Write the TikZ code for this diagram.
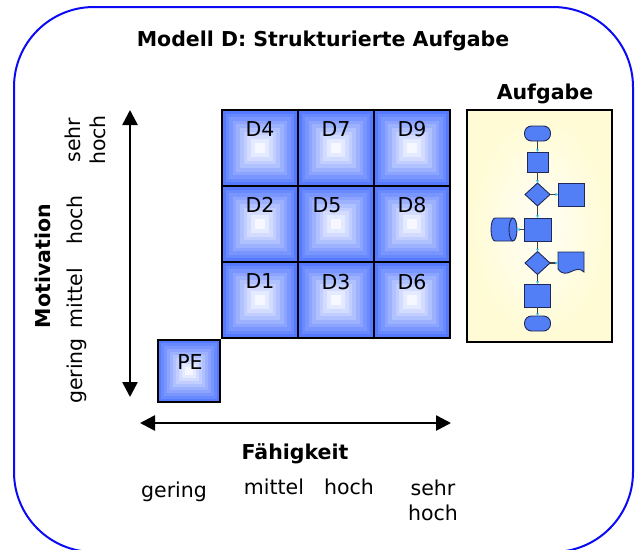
\documentclass[tikz,border=0pt]{standalone}
\usepackage{fontspec}
\setmainfont{DejaVu Sans}
\usetikzlibrary{arrows.meta,shapes.geometric,calc}

\definecolor{cellblue}{RGB}{86,122,255}
\definecolor{flowblue}{RGB}{82,126,246}
\definecolor{flowedge}{RGB}{30,40,90}
\definecolor{frameblue}{RGB}{10,10,245}
\definecolor{paper}{RGB}{255,251,212}
\definecolor{paperlight}{RGB}{255,255,246}
\definecolor{tipcyan}{RGB}{40,200,255}

\tikzset{
  txt/.style={font=\fontsize{20.5}{25}\selectfont, inner sep=0pt},
  txtb/.style={font=\fontsize{20.5}{25}\selectfont\bfseries, inner sep=0pt},
  cellframe/.style={draw=black, line width=2pt, inner sep=0pt, outer sep=0pt},
  axisarrow/.style={line width=2.6pt,
    {Triangle[length=15pt,width=15pt]}-{Triangle[length=15pt,width=15pt]}},
  flowshape/.style={draw=flowedge, fill=flowblue, line width=0.9pt, inner sep=0pt, outer sep=0pt},
  flowbox/.style={flowshape, rectangle},
  flowterm/.style={flowshape, rectangle, rounded corners=7pt, minimum width=26, minimum height=15},
  flowdec/.style={flowshape, diamond, minimum width=25, minimum height=23},
  anchorbox/.style={inner sep=0pt, outer sep=0pt},
  flowline/.style={draw=black!75, line width=1.2pt,
    -{Triangle[length=2.6pt,width=2.8pt,color=tipcyan]}},
  taskbox/.style={draw=black, line width=2pt, inner sep=0pt,
    shading=radial, inner color=paperlight, outer color=paper},
}

% one cell of the matrix: name, left, top, size, label, label dx, label baseline
\newcommand\gridcell[7]{%
  \foreach \k in {0,...,9}{%
    \pgfmathsetmacro\cellins{#4*\k/21}%
    \pgfmathtruncatemacro\cellmix{100-\k*10.5}%
    \fill[cellblue!\cellmix!white] (#2+\cellins,#3+\cellins) rectangle (#2+#4-\cellins,#3+#4-\cellins);
  }%
  \node[cellframe, minimum size=#4] (#1) at (#2+#4/2,#3+#4/2) {};
  \node[txt, anchor=base] (#1-label) at (#2+#4/2+#6,#3+#7) {#5};
}

\begin{document}
\begin{tikzpicture}[x=1pt, y=-1pt]
\useasboundingbox (0,0) rectangle (636,549);

% outer frame
\draw[frameblue, line width=2pt, rounded corners=80pt] (14,7) rectangle (633,552);

% title
\node[txtb, anchor=base] (title) at (323,46) {Modell D: Strukturierte Aufgabe};

% matrix of cells
\gridcell{d4}{222}{110}{76}{D4}{0}{26}
\gridcell{d7}{298}{110}{76}{D7}{0}{26}
\gridcell{d9}{374}{110}{76}{D9}{0}{26}
\gridcell{d2}{222}{186}{76}{D2}{0}{26}
\gridcell{d5}{298}{186}{76}{D5}{-9}{26}
\gridcell{d8}{374}{186}{76}{D8}{0}{26}
\gridcell{d1}{222}{262}{76}{D1}{0}{26}
\gridcell{d3}{298}{262}{76}{D3}{0}{27}
\gridcell{d6}{374}{262}{76}{D6}{0}{27}
\gridcell{pe}{158}{340}{62}{PE}{1}{29}

% axes
\coordinate (vtop) at (130,110);
\coordinate (vbot) at (130,397);
\draw[axisarrow] (vtop) -- (vbot);
\coordinate (hleft) at (140,423);
\coordinate (hright) at (451,423);
\draw[axisarrow] (hleft) -- (hright);

% horizontal axis labels
\node[txtb, anchor=base] (xname) at (295,459) {Fähigkeit};
\node[txt, anchor=base] (x1) at (174,497) {gering};
\node[txt, anchor=base] (x2) at (274,494) {mittel};
\node[txt, anchor=base] (x3) at (349,494) {hoch};
\node[txt, anchor=north, align=center] (x4) at (433,480) {sehr\\hoch};

% vertical axis labels
\node[txtb, anchor=base, rotate=90] (yname) at (50,266) {Motivation};
\node[txt, anchor=base, rotate=90] (y1) at (82,371) {gering};
\node[txt, anchor=base, rotate=90] (y2) at (82,298) {mittel};
\node[txt, anchor=base, rotate=90] (y3) at (82,220) {hoch};
\node[txt, anchor=north, align=center, rotate=90] (y4) at (65,140) {sehr\\hoch};

% task panel
\node[txtb, anchor=base] (taskname) at (545,99) {Aufgabe};
\node[taskbox, minimum width=145, minimum height=232] (task) at (539.5,226) {};

% flowchart inside the task panel
\node[flowterm] (t1) at (537.5,133.5) {};
\node[flowbox, minimum width=21, minimum height=20] (r1) at (537.5,162) {};
\node[flowdec] (q1) at (537.5,194.5) {};
\node[flowbox, minimum width=26, minimum height=23] (sq) at (571,194.5) {};
\node[flowbox, minimum width=27, minimum height=23] (r2) at (537.5,229.5) {};

% storage drum lying on its side, right face visible
\node[anchorbox, minimum width=26, minimum height=23] (cyl) at (504,229.5) {};
\begin{scope}[shift={(cyl.center)}]
  \filldraw[draw=flowedge, fill=flowblue, line width=0.9pt]
    (-9,-11.5) -- (9,-11.5) arc (270:450:4 and 11.5) -- (-9,11.5)
    arc (90:270:4 and 11.5) -- cycle;
  \draw[flowedge, line width=0.9pt] (9,-11.5) arc (270:90:4 and 11.5);
\end{scope}

\node[flowdec] (q2) at (537.5,263) {};

% document sheet with wavy lower edge
\node[anchorbox, minimum width=26, minimum height=22] (doc) at (571,263) {};
\begin{scope}[shift={(doc.center)}]
  \filldraw[draw=flowedge, fill=flowblue, line width=0.9pt]
    (-13,-11) -- (13,-11) -- (13,9) .. controls (4,0) and (-4,18) .. (-13,6) -- cycle;
\end{scope}

\node[flowbox, minimum width=26, minimum height=23] (r3) at (537.5,295.5) {};
\node[flowterm] (t2) at (537.5,323.5) {};

\draw[flowline] (t1) -- (r1);
\draw[flowline] (r1) -- (q1);
\draw[flowline] (q1) -- (sq);
\draw[flowline] (q1) -- (r2);
\draw[flowline] (r2) -- (cyl);
\draw[flowline] (r2) -- (q2);
\draw[flowline] (q2) -- (doc);
\draw[flowline] (q2) -- (r3);
\draw[flowline] (r3) -- (t2);
\end{tikzpicture}
\end{document}
